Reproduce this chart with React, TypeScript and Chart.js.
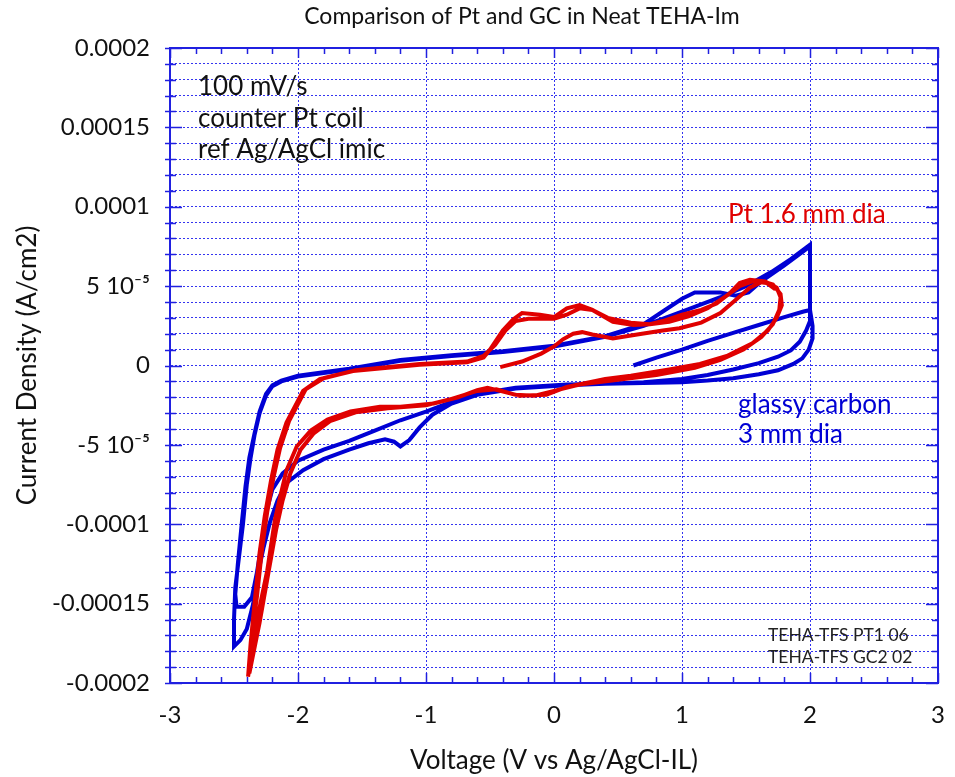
import React, { useEffect, useRef } from "react";
import { Chart, registerables } from "chart.js";

Chart.register(...registerables);

// Current values are in units of 1e-5 A/cm2
const CURRENT_UNIT = 1e-5;

// Pt 1.6 mm dia (red)
const ptVoltage = [
  -0.42, -0.25, -0.1, 0.0, 0.07, 0.15, 0.22, 0.3, 0.46, 0.65, 0.85, 0.98, 1.15, 1.3, 1.43, 1.53, 1.63, 1.71, 1.77,
  1.78, 1.74, 1.67, 1.55, 1.35, 1.14, 0.9, 0.6, 0.4, 0.1, -0.06, -0.27, -0.42, -0.52, -0.6, -0.75, -0.94, -1.2, -1.36, -1.59, -1.77, -1.9, -2.01, -2.09, -2.14, -2.18, -2.24, -2.32, -2.39,
  -2.37, -2.34, -2.3, -2.26, -2.21, -2.16, -2.09, -1.96, -1.83, -1.57, -1.05, -0.68, -0.55, -0.5, -0.4, -0.32, -0.25, -0.11, 0.0, 0.1, 0.2, 0.3, 0.46, 0.62, 0.75, 0.85, 1.0, 1.15, 1.27, 1.38, 1.45, 1.53, 1.65, 1.74, 1.77,
  1.76, 1.71, 1.62, 1.48, 1.3, 1.1, 0.8, 0.5, 0.2, 0.0, -0.15, -0.3, -0.45, -0.6, -0.8, -1.0, -1.3, -1.55, -1.75, -1.88, -1.98, -2.06, -2.12, -2.17, -2.23, -2.3, -2.38,
  -2.36, -2.32, -2.28, -2.24, -2.19, -2.14, -2.07, -1.94, -1.8, -1.55, -1.05, -0.68, -0.55, -0.46, -0.38, -0.3, -0.2, 0.0, 0.1, 0.2, 0.3, 0.42, 0.6, 0.75, 0.9, 1.05, 1.2, 1.35, 1.45, 1.55, 1.66, 1.73,
];
const ptCurrent = [
  -0.1, 0.25, 0.75, 1.2, 1.65, 2.0, 2.1, 1.95, 1.7, 1.95, 2.2, 2.35, 2.7, 3.3, 4.2, 4.9, 5.3, 5.1, 4.5,
  3.8, 3.0, 2.2, 1.4, 0.6, 0.1, -0.25, -0.65, -0.85, -1.35, -1.85, -1.9, -1.6, -1.4, -1.55, -2.0, -2.4, -2.6, -2.6, -2.9, -3.4, -4.1, -5.1, -6.6, -8.3, -9.7, -12.9, -16.0, -19.6,
  -17.5, -15.0, -11.8, -9.5, -7.2, -5.3, -3.6, -1.6, -0.85, -0.35, 0.05, 0.2, 0.5, 1.0, 2.2, 2.9, 3.3, 3.2, 3.05, 3.6, 3.8, 3.5, 2.75, 2.55, 2.6, 2.8, 3.2, 3.5, 3.9, 4.6, 5.2, 5.4, 5.3, 4.9, 4.3,
  3.5, 2.6, 1.8, 1.0, 0.35, -0.15, -0.6, -0.9, -1.2, -1.6, -1.9, -1.85, -1.5, -1.6, -2.1, -2.5, -2.7, -2.95, -3.5, -4.3, -5.3, -6.8, -8.5, -10.3, -13.0, -16.2, -19.4,
  -17.0, -14.5, -11.5, -9.2, -7.0, -5.2, -3.5, -1.5, -0.8, -0.3, 0.1, 0.25, 0.6, 1.3, 2.2, 2.8, 2.95, 2.95, 3.2, 3.6, 3.5, 3.0, 2.7, 2.6, 2.75, 3.1, 3.6, 4.4, 5.0, 5.3, 5.2, 4.8,
];

// Glassy carbon 3 mm dia (blue)
const gcVoltage = [
  0.62, 0.8, 1.0, 1.2, 1.4, 1.6, 1.8, 1.95, 2.0,
  2.0, 1.97, 1.92, 1.85, 1.75, 1.6, 1.4, 1.2, 1.0, 0.7, 0.4, 0.1, -0.3, -0.6, -0.8,
  -0.95, -1.05, -1.13, -1.2, -1.25, -1.32, -1.45, -1.6, -1.8, -1.96, -2.09, -2.16, -2.22, -2.27, -2.31, -2.35, -2.4, -2.45, -2.5,
  -2.5, -2.49, -2.46, -2.43, -2.4, -2.37, -2.34, -2.3, -2.25, -2.2, -2.13, -2.0, -1.6, -1.2, -0.8, -0.4, 0.0, 0.4, 0.7, 1.0, 1.3, 1.5, 1.7, 1.85, 2.0,
  2.0, 2.0, 2.02, 2.02, 1.99, 1.94, 1.87, 1.75, 1.6, 1.4, 1.2, 1.0, 0.7, 0.4, 0.1, -0.3, -0.6, -0.8,
  -1.0, -1.2, -1.4, -1.6, -1.8, -2.0, -2.12, -2.2, -2.25, -2.28, -2.32, -2.36, -2.42, -2.48, -2.49,
  -2.47, -2.44, -2.41, -2.38, -2.34, -2.3, -2.25, -2.2, -2.13, -2.0, -1.6, -1.2, -0.8, -0.4, 0.0, 0.4, 0.7, 0.85, 1.0, 1.1, 1.3, 1.42, 1.52, 1.62, 1.8, 2.0,
];
const gcCurrent = [
  0.0, 0.5, 1.0, 1.55, 2.05, 2.55, 3.05, 3.4, 3.5,
  2.8, 2.2, 1.5, 0.95, 0.55, 0.15, -0.25, -0.6, -0.85, -1.05, -1.15, -1.25, -1.45, -1.85, -2.4,
  -3.1, -3.9, -4.7, -5.1, -4.8, -4.65, -4.9, -5.3, -5.9, -6.6, -7.4, -8.5, -9.9, -11.5, -13.0, -15.0, -16.6, -17.3, -17.7,
  -16.0, -14.0, -12.0, -10.0, -7.5, -5.8, -4.4, -3.0, -1.9, -1.3, -1.0, -0.7, -0.25, 0.3, 0.6, 0.85, 1.2, 1.8, 2.5, 3.4, 4.3, 5.0, 5.9, 6.7, 7.6,
  5.5, 3.5, 2.5, 1.7, 1.0, 0.45, 0.1, -0.3, -0.55, -0.8, -0.95, -1.05, -1.1, -1.15, -1.2, -1.4, -1.8, -2.3,
  -2.9, -3.45, -4.1, -4.75, -5.3, -6.0, -6.8, -7.8, -9.3, -11.0, -13.0, -14.6, -15.2, -15.2, -14.4,
  -12.5, -10.0, -7.6, -5.8, -4.3, -2.9, -1.8, -1.25, -0.95, -0.65, -0.2, 0.35, 0.65, 0.9, 1.25, 1.85, 2.6, 3.4, 4.2, 4.6, 4.6, 4.4, 4.6, 5.3, 6.3, 7.5,
];

const xTickValues = [-3, -2, -1, 0, 1, 2, 3];
const xTickLabels = ["-3", "-2", "-1", "0", "1", "2", "3"];
const yTickValues = [0.0002, 0.00015, 0.0001, 0.00005, 0, -0.00005, -0.0001, -0.00015, -0.0002];
const yTickLabels = ["0.0002", "0.00015", "0.0001", "5 10\u207B\u2075", "0", "-5 10\u207B\u2075", "-0.0001", "-0.00015", "-0.0002"];

const titleText = "Comparison of Pt and GC in Neat TEHA-Im";
const xTitle = "Voltage (V vs Ag/AgCl-IL)";
const yTitle = "Current Density (A/cm2)";
const infoLines = ["100 mV/s", "counter Pt coil", "ref Ag/AgCl imic"];
const ptLabel = "Pt 1.6 mm dia";
const gcLabel = ["glassy carbon", "3 mm dia"];
const fileLabels = ["TEHA-TFS PT1 06", "TEHA-TFS GC2 02"];

const FONT = "Lato, 'Open Sans', sans-serif";
const RED = "#e00000";
const BLUE = "#0000d4";
const AXIS_BLUE = "#2020e0";
const GRID_BLUE = "#3434f0";

const isInt = (v: number) => Math.abs(v - Math.round(v)) < 1e-6;

const decorPlugin = {
  id: "decor",
  beforeDatasetsDraw(chart: any) {
    const { ctx, chartArea } = chart;
    const { left, right, top, bottom } = chartArea;
    const xs = chart.scales.x;
    const ys = chart.scales.y;
    ctx.save();
    ctx.strokeStyle = AXIS_BLUE;
    ctx.lineWidth = 1.5;
    ctx.beginPath();
    for (let i = -15; i <= 15; i++) {
      const v = i / 5;
      const px = Math.round(xs.getPixelForValue(v)) + 0.5;
      const len = i % 5 === 0 ? 10 : 6;
      ctx.moveTo(px, bottom);
      ctx.lineTo(px, bottom - len);
      ctx.moveTo(px, top);
      ctx.lineTo(px, top + len);
    }
    for (let k = -20; k <= 20; k++) {
      const py = Math.round(ys.getPixelForValue(k * CURRENT_UNIT)) + 0.5;
      const len = k % 5 === 0 ? 12 : 6;
      ctx.moveTo(left - 5, py);
      ctx.lineTo(left + len, py);
      ctx.moveTo(right, py);
      ctx.lineTo(right - len, py);
    }
    ctx.stroke();
    ctx.lineWidth = 2;
    ctx.strokeRect(left, top, right - left, bottom - top);
    ctx.restore();
  },
  afterDraw(chart: any) {
    const { ctx, chartArea } = chart;
    const { left, top } = chartArea;
    ctx.save();
    ctx.textBaseline = "middle";
    ctx.textAlign = "center";
    ctx.fillStyle = "#111";
    ctx.font = `23px ${FONT}`;
    ctx.fillText(titleText, left + 352, top - 31);
    ctx.textAlign = "left";
    ctx.font = `26px ${FONT}`;
    infoLines.forEach((t, i) => ctx.fillText(t, left + 28, top + 39 + i * 31.5));
    ctx.fillStyle = RED;
    ctx.fillText(ptLabel, left + 558, top + 167);
    ctx.fillStyle = BLUE;
    gcLabel.forEach((t, i) => ctx.fillText(t, left + 568, top + 357 + i * 30));
    ctx.fillStyle = "#222";
    ctx.font = `17.5px ${FONT}`;
    fileLabels.forEach((t, i) => ctx.fillText(t, left + 598, top + 587 + i * 22));
    ctx.restore();
  },
};

export default function App() {
  const canvasRef = useRef<HTMLCanvasElement | null>(null);

  useEffect(() => {
    if (!canvasRef.current) return;
    const ptData = ptVoltage.map((v, i) => ({ x: v, y: ptCurrent[i] * CURRENT_UNIT }));
    const gcData = gcVoltage.map((v, i) => ({ x: v, y: gcCurrent[i] * CURRENT_UNIT }));
    const chart = new Chart(canvasRef.current, {
      type: "scatter",
      data: {
        datasets: [
          {
            label: ptLabel,
            data: ptData,
            showLine: true,
            borderColor: RED,
            backgroundColor: RED,
            borderWidth: 4,
            pointRadius: 0,
            tension: 0,
          },
          {
            label: gcLabel.join(" "),
            data: gcData,
            showLine: true,
            borderColor: BLUE,
            backgroundColor: BLUE,
            borderWidth: 4,
            pointRadius: 0,
            tension: 0,
          },
        ],
      },
      options: {
        animation: false,
        responsive: false,
        layout: { padding: { left: 0, right: 17, top: 48, bottom: 0 } },
        plugins: {
          legend: { display: false },
          tooltip: { enabled: false },
          title: { display: false },
        },
        scales: {
          x: {
            type: "linear",
            min: -3,
            max: 3,
            afterFit: (s: any) => {
              s.height = 94;
              s.paddingLeft = 0;
              s.paddingRight = 0;
            },
            ticks: {
              stepSize: 0.2,
              autoSkip: false,
              maxRotation: 0,
              padding: 18,
              color: "#111",
              font: { family: FONT, size: 24 },
              callback: (value: any) => {
                const v = Number(value);
                const idx = xTickValues.findIndex((t) => Math.abs(t - v) < 1e-6);
                return idx >= 0 ? xTickLabels[idx] : "";
              },
            },
            grid: {
              drawTicks: false,
              lineWidth: 1,
              color: (c: any) => (c.tick && isInt(c.tick.value) ? GRID_BLUE : "rgba(0,0,0,0)"),
            },
            border: { display: true, color: AXIS_BLUE, width: 2, dash: [2, 2] },
            title: {
              display: true,
              text: xTitle,
              color: "#111",
              font: { family: FONT, size: 26 },
              padding: { top: 0, bottom: 1 },
            },
          },
          y: {
            type: "linear",
            min: -0.0002,
            max: 0.0002,
            afterFit: (s: any) => {
              s.width = 170;
              s.paddingTop = 0;
              s.paddingBottom = 0;
            },
            ticks: {
              stepSize: 0.00001,
              autoSkip: false,
              padding: 20,
              color: "#111",
              font: { family: FONT, size: 24 },
              callback: (value: any) => {
                const v = Number(value);
                const idx = yTickValues.findIndex((t) => Math.abs(t - v) < 1e-9);
                return idx >= 0 ? yTickLabels[idx] : "";
              },
            },
            grid: {
              drawTicks: false,
              lineWidth: 1,
              color: GRID_BLUE,
            },
            border: { display: true, color: AXIS_BLUE, width: 2, dash: [2, 2] },
            title: {
              display: true,
              text: yTitle,
              color: "#111",
              font: { family: FONT, size: 26 },
              padding: { top: 12, bottom: 0 },
            },
          },
        },
      },
      plugins: [decorPlugin],
    });
    return () => chart.destroy();
  }, []);

  return (
    <div style={{ position: "absolute", left: 0, top: 0, width: 955, height: 777, background: "#fff" }}>
      <canvas ref={canvasRef} width={955} height={777} style={{ width: 955, height: 777 }} />
    </div>
  );
}
